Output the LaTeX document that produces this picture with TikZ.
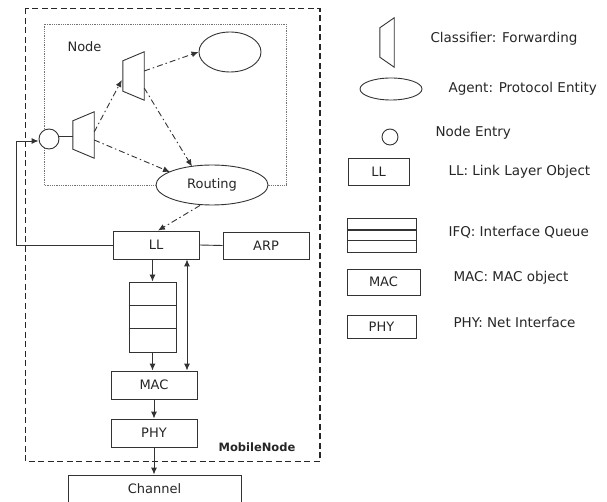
\documentclass[tikz,border=0pt]{standalone}
\usepackage{fontspec}
\setmainfont{DejaVu Sans}
\usetikzlibrary{arrows.meta,shapes.geometric,calc}
\newcommand\drawclsf[2]{\draw[ln] (#1.north east) -- (#1.south east) -- ([yshift=#2]#1.south west) -- ([yshift=-#2]#1.north west) -- cycle;}
\begin{document}
\begin{tikzpicture}[x=1pt,y=-1pt,
  every node/.style={font=\fontsize{13}{15}\selectfont,text=black!85},
  ln/.style={draw=black!80,line width=0.9pt},
  box/.style={ln,rectangle,inner sep=0pt},
  agent/.style={ln,ellipse,inner sep=0pt},
  entry/.style={ln,circle,inner sep=0pt,fill=white},
  clsf/.style={rectangle,inner sep=0pt,draw=none},
  arr/.style={ln,-{Latex[length=7pt,width=6pt]}},
  dd/.style={arr,dash pattern=on 6pt off 3pt on 1.5pt off 3pt},
  desc/.style={anchor=west,font=\fontsize{13.5}{16}\selectfont},
  dotbox/.style={draw=black!55,line width=0.8pt,dash pattern=on 0.9pt off 0.9pt},
  outer/.style={draw=black!85,line width=1.5pt,dash pattern=on 6pt off 3.5pt},
]
\clip (0,0) rectangle (607,502);

% outer MobileNode box
\draw[outer] (25.7,8.5) rectangle (320,461.5);
\node[font=\bfseries\fontsize{11.5}{14}\selectfont] (mn) at (257,447) {MobileNode};

% Node internals
\node (nodelbl) at (84.5,47) {Node};
\node[agent,minimum width=62pt,minimum height=40pt] (agent) at (230,52) {};
\node[agent,minimum width=112pt,minimum height=40pt] (routing) at (212,185) {Routing};
\coordinate (nbl) at (44,24);
\coordinate (nbr) at (286,24);
\draw[dotbox] (routing.west) -| (nbl) -| (nbr) |- (routing.east);

\node[clsf,minimum width=21pt,minimum height=48pt] (cu) at (133.5,76) {};
\node[clsf,minimum width=21pt,minimum height=46pt] (cl) at (83.5,135) {};
\drawclsf{cu}{9pt}
\drawclsf{cl}{9pt}
\node[entry,minimum size=20pt] (entry) at (49,139) {};

\draw[ln] (entry.15) -- (entry.15 -| cl.west);
\draw[dd] ($(cl.east)+(0,-3)$) -- ($(cu.west)+(-1,4)$);
\draw[dd] ($(cu.east)+(0,-5)$) -- (agent.west);
\draw[dd] ($(cu.east)+(0,12)$) -- ($(routing.center)+(-20,-18.5)$);
\draw[dd] ($(cl.east)+(0,5)$) -- ($(routing.center)+(-42,-13)$);

% lower stack
\node[box,minimum width=86pt,minimum height=28pt] (LL) at (156,245) {LL};
\node[box,minimum width=86pt,minimum height=27pt] (ARP) at (266,245.5) {ARP};
\node[box,minimum width=47pt,minimum height=70pt] (q) at (152.5,317) {};
\draw[ln] ($(q.north west)!1/3!(q.south west)$) -- ($(q.north east)!1/3!(q.south east)$);
\draw[ln] ($(q.north west)!2/3!(q.south west)$) -- ($(q.north east)!2/3!(q.south east)$);
\node[box,minimum width=86pt,minimum height=28pt] (MAC) at (154,385) {MAC};
\node[box,minimum width=86pt,minimum height=28pt] (PHY) at (154,433) {PHY};
\node[box,minimum width=173pt,minimum height=28pt] (chan) at (154.5,489) {Channel};

\draw[dd] ($(routing.south)+(-12,0)$) -- ($(LL.north)+(2,0)$);
\draw[ln] (LL.east) -- (ARP.west);
\coordinate (lp) at (16,141);
\draw[arr] (LL.west) -| (lp) -- (lp -| entry.west);
\draw[arr] (q.north |- LL.south) -- (q.north);
\draw[arr] (q.south) -- (q.south |- MAC.north);
\coordinate (dx) at (187,0);
\draw[ln,{Latex[length=7pt,width=6pt]}-{Latex[length=7pt,width=6pt]}] (LL.south -| dx) -- (MAC.north -| dx);
\draw[arr] (MAC.south) -- (PHY.north);
\draw[arr] (PHY.south) -- (PHY.south |- chan.north);

% legend
\node[clsf,minimum width=14pt,minimum height=49pt] (lcl) at (387,42.5) {};
\drawclsf{lcl}{10pt}
\node[desc] (t1) at (427,39) {Classifier: Forwarding};
\node[agent,minimum width=62pt,minimum height=22pt] (lag) at (391,89) {};
\node[desc] (t2) at (445,89) {Agent: Protocol Entity};
\node[entry,minimum size=16pt] (len) at (390,137) {};
\node[desc] (t3) at (432,133) {Node Entry};
\node[box,minimum width=61pt,minimum height=27pt] (lll) at (378.5,171.5) {LL};
\node[desc] (t4) at (445,172) {LL: Link Layer Object};
\node[box,minimum width=69pt,minimum height=34pt] (lifq) at (381.5,235) {};
\draw[ln,line width=2pt] ($(lifq.north west)+(0,12)$) -- ($(lifq.north east)+(0,12)$);
\draw[ln] ($(lifq.north west)+(0,23)$) -- ($(lifq.north east)+(0,23)$);
\node[desc] (t5) at (445,232) {IFQ: Interface Queue};
\node[box,minimum width=73pt,minimum height=26pt] (lmac) at (383.5,282) {MAC};
\node[desc] (t6) at (450,278) {MAC: MAC object};
\node[box,minimum width=69pt,minimum height=23pt] (lphy) at (381.5,326.5) {PHY};
\node[desc] (t7) at (450,322) {PHY: Net Interface};
\end{tikzpicture}
\end{document}
